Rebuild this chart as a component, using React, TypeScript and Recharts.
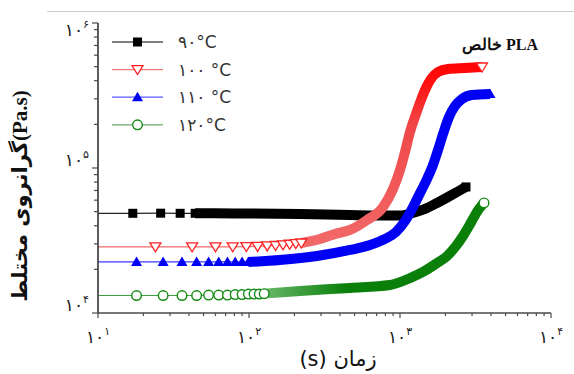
import React from 'react';
import { LineChart, Line, XAxis, YAxis, Legend } from 'recharts';

// ---- axes ----
const X_TICKS = [10, 20, 30, 40, 50, 60, 70, 80, 90, 100, 200, 300, 400, 500, 600, 700, 800, 900, 1000, 2000, 3000, 4000, 5000, 6000, 7000, 8000, 9000, 10000];
const Y_TICKS = [10000, 20000, 30000, 40000, 50000, 60000, 70000, 80000, 90000, 100000, 200000, 300000, 400000, 500000, 600000, 700000, 800000, 900000, 1000000];
const X_MAJOR = [10, 100, 1000, 10000];
const X_EXP = ['۱', '۲', '۳', '۴'];
const Y_MAJOR = [10000, 100000, 1000000];
const Y_EXP = ['۴', '۵', '۶'];

const X_TITLE = '(s) زمان';
const Y_TITLE_FA = 'گرانروی مختلط';
const Y_TITLE_UNIT = '(Pa.s)';
const PLOT_TITLE_FA = 'خالص';
const PLOT_TITLE_EN = 'PLA';

const LEGEND_LABELS = ['۹۰°C', '۱۰۰ °C', '۱۱۰ °C', '۱۲۰°C'];

// ---- complex viscosity vs. time: [time (s), eta* (Pa.s)] ----
// sparse early readings drawn as individual symbols
const black90Marks: [number, number][] = [
  [8, 48700], [17, 48700], [26, 48800], [35, 48700], [44, 48700],
];
// dense readings, merged into a continuous band of symbols
const black90Trace: [number, number][] = [
  [44, 48700], [80, 48600], [218, 48200], [467, 47400], [859, 47000], [1000, 47000], [1201, 48900], [1465, 52200],
  [1758, 57400], [2080, 63100], [2385, 68300], [2735, 74000],
];

const red100Marks: [number, number][] = [
  [6, 28600], [24, 28600], [42, 28600], [60, 28600], [78, 28600], [96, 28700], [114, 28800], [132, 29000],
  [150, 29200], [168, 29500], [186, 29800], [204, 30100], [222, 30400],
];
const red100Trace: [number, number][] = [
  [222, 30400], [295, 32400], [371, 35100], [467, 37400], [605, 43800], [772, 53800], [899, 71700],
  [1000, 96900], [1079, 128900], [1165, 177100], [1276, 235800], [1377, 294400], [1486, 356200],
  [1603, 411000], [1785, 459300], [2080, 481700], [2694, 489400], [3490, 497200],
];

const blue110Marks: [number, number][] = [
  [9, 22500], [18, 22500], [27, 22500], [36, 22500], [45, 22500], [54, 22500], [63, 22500], [72, 22500],
  [81, 22500], [90, 22500], [99, 22500],
];
const blue110Trace: [number, number][] = [
  [99, 22500], [160, 23200], [282, 24700], [467, 27200], [633, 29400], [796, 32400], [941, 36200],
  [1079, 43100], [1220, 53800], [1357, 67200], [1510, 84000], [1654, 104900], [1785, 133100],
  [1927, 171600], [2111, 224800], [2313, 267700], [2574, 299200], [2998, 318800], [3945, 323900],
];

const green120Marks: [number, number][] = [
  [9, 13200], [18, 13200], [27, 13200], [36, 13200], [45, 13200], [54, 13300], [63, 13300], [72, 13300],
  [81, 13400], [90, 13400], [99, 13500], [108, 13500], [117, 13500], [126, 13600],
];
const green120Trace: [number, number][] = [
  [126, 13600], [218, 14200], [467, 14900], [859, 15600], [1165, 17400], [1420, 19200], [1758, 22100],
  [2048, 24700], [2348, 29000], [2614, 34000], [2864, 39800], [3091, 45900], [3336, 52200], [3601, 57400],
];

const toRows = (pts: [number, number][]) => pts.map(([t, v]) => ({ t, v }));

// ---- styling ----
const AXIS = '#4a4a4a';
const FA_FONT = '"DejaVu Sans", sans-serif';
const SERIF = '"Liberation Serif", "DejaVu Serif", serif';

type SeriesStyle = { line: string; band: string; legendLine: string; kind: 'square' | 'down' | 'up' | 'circle'; color: string };
const STYLES: SeriesStyle[] = [
  { line: '#222222', band: '#000000', legendLine: '#555555', kind: 'square', color: '#000000' },
  { line: '#f06a6a', band: 'url(#redBand)', legendLine: '#f07a7a', kind: 'down', color: '#ff2020' },
  { line: '#3a3aff', band: '#0000f5', legendLine: '#5a5aff', kind: 'up', color: '#0000f5' },
  { line: '#3f9f3f', band: 'url(#greenBand)', legendLine: '#6aaa6a', kind: 'circle', color: '#128a12' },
];

function Marker({ kind, cx, cy, color }: { kind: SeriesStyle['kind']; cx: number; cy: number; color: string }) {
  if (kind === 'square') return <rect x={cx - 4.5} y={cy - 4.5} width={9} height={9} fill={color} />;
  if (kind === 'down')
    return (
      <polygon
        points={`${cx - 5.5},${cy - 4} ${cx + 5.5},${cy - 4} ${cx},${cy + 5}`}
        fill="#ffffff"
        stroke={color}
        strokeWidth={1.3}
      />
    );
  if (kind === 'up')
    return <polygon points={`${cx - 5.5},${cy + 4} ${cx + 5.5},${cy + 4} ${cx},${cy - 5.5}`} fill={color} />;
  return <circle cx={cx} cy={cy} r={4.8} fill="#ffffff" stroke={color} strokeWidth={1.4} />;
}

const markDot = (s: SeriesStyle) => (p: any) => (
  <g key={`m-${p.index}`}>
    <Marker kind={s.kind} cx={p.cx} cy={p.cy} color={s.color} />
  </g>
);
const endDot = (s: SeriesStyle, n: number) => (p: any) =>
  p.index === n - 1 ? (
    <g key={`e-${p.index}`}>
      <Marker kind={s.kind} cx={p.cx} cy={p.cy} color={s.color} />
    </g>
  ) : (
    <g key={`e-${p.index}`} />
  );

// ---- ticks ----
const BottomTick = (props: any) => {
  const { x, y, payload } = props;
  const i = X_MAJOR.indexOf(payload.value);
  const major = i >= 0;
  return (
    <g>
      <line x1={x} x2={x} y1={y} y2={y + (major ? 5 : 3)} stroke={AXIS} strokeWidth={1.2} />
      {major && (
        <text x={x} y={y + 30} textAnchor="middle" fontFamily={FA_FONT} fontSize={17} fill="#1a1a1a">
          <tspan>۱۰</tspan>
          <tspan dy={-8} fontSize={11}>{X_EXP[i]}</tspan>
        </text>
      )}
    </g>
  );
};

const LeftTick = (props: any) => {
  const { x, y, payload } = props;
  const i = Y_MAJOR.indexOf(payload.value);
  const major = i >= 0;
  return (
    <g>
      <line x1={x} x2={x - (major ? 6 : 4)} y1={y} y2={y} stroke={AXIS} strokeWidth={1.2} />
      {major && (
        <text x={x - 9} y={Math.max(y - 2, 36)} textAnchor="end" fontFamily={FA_FONT} fontSize={17} fill="#1a1a1a">
          <tspan>۱۰</tspan>
          <tspan dy={-8} fontSize={11}>{Y_EXP[i]}</tspan>
        </text>
      )}
    </g>
  );
};

const TopTick = (props: any) => {
  const { x, y, payload } = props;
  const major = X_MAJOR.includes(payload.value);
  return <line x1={x} x2={x} y1={y} y2={y + (major ? 5 : 3)} stroke={AXIS} strokeWidth={1.2} />;
};

const RightTick = (props: any) => {
  const { x, y, payload } = props;
  const major = Y_MAJOR.includes(payload.value);
  return <line x1={x} x2={x - (major ? 5 : 3)} y1={y} y2={y} stroke={AXIS} strokeWidth={1.2} />;
};

const LegendBox = () => (
  <svg width={170} height={112} style={{ display: 'block' }}>
    {LEGEND_LABELS.map((label, i) => {
      const s = STYLES[i];
      const cy = 14 + i * 27.6;
      return (
        <g key={label}>
          <line x1={12} x2={63} y1={cy} y2={cy} stroke={s.legendLine} strokeWidth={1.3} />
          <Marker kind={s.kind} cx={37.5} cy={cy} color={s.color} />
          <text x={78} y={cy + 6} fontFamily={FA_FONT} fontSize={17} fill="#333333">
            {label}
          </text>
        </g>
      );
    })}
  </svg>
);

const SERIES = [
  { name: 'black90', marks: black90Marks, trace: black90Trace },
  { name: 'red100', marks: red100Marks, trace: red100Trace },
  { name: 'blue110', marks: blue110Marks, trace: blue110Trace },
  { name: 'green120', marks: green120Marks, trace: green120Trace },
];

export default function App() {
  return (
    <div style={{ position: 'fixed', left: 0, top: 0, background: '#ffffff' }}>
      <LineChart width={574} height={374} margin={{ top: 23, right: 23, bottom: 0, left: 0 }}>
        <defs>
          <linearGradient id="redBand" gradientUnits="userSpaceOnUse" x1={0} y1={60} x2={0} y2={250}>
            <stop offset="0" stopColor="#ff0000" />
            <stop offset="0.12" stopColor="#ff1010" />
            <stop offset="0.35" stopColor="#f04848" />
            <stop offset="1" stopColor="#f26a6a" />
          </linearGradient>
          <linearGradient id="greenBand" gradientUnits="userSpaceOnUse" x1={262} y1={0} x2={345} y2={0}>
            <stop offset="0" stopColor="#6cb86c" />
            <stop offset="1" stopColor="#0a800a" />
          </linearGradient>
        </defs>
        <line x1={47} x2={574} y1={11.5} y2={11.5} stroke="#cccccc" strokeWidth={1} />
        <XAxis
          dataKey="t"
          type="number"
          scale="log"
          domain={[10, 10000]}
          allowDataOverflow
          ticks={X_TICKS}
          interval={0}
          tick={<BottomTick />}
          tickLine={false}
          tickSize={0}
          tickMargin={0}
          height={61}
          axisLine={{ stroke: AXIS, strokeWidth: 1.6 }}
        />
        <XAxis
          xAxisId="top"
          orientation="top"
          dataKey="t"
          type="number"
          scale="log"
          domain={[10, 10000]}
          allowDataOverflow
          ticks={X_TICKS}
          interval={0}
          tick={<TopTick />}
          tickLine={false}
          tickSize={0}
          tickMargin={0}
          height={0}
          axisLine={{ stroke: AXIS, strokeWidth: 1.6 }}
        />
        <YAxis
          type="number"
          scale="log"
          domain={[10000, 1000000]}
          allowDataOverflow
          ticks={Y_TICKS}
          interval={0}
          tick={<LeftTick />}
          tickLine={false}
          tickSize={0}
          tickMargin={0}
          width={98}
          axisLine={{ stroke: AXIS, strokeWidth: 1.8 }}
        />
        <YAxis
          yAxisId="right"
          orientation="right"
          type="number"
          scale="log"
          domain={[10000, 1000000]}
          allowDataOverflow
          ticks={Y_TICKS}
          interval={0}
          tick={<RightTick />}
          tickLine={false}
          tickSize={0}
          tickMargin={0}
          width={0}
          axisLine={{ stroke: AXIS, strokeWidth: 1.6 }}
        />
        {SERIES.flatMap((ser, i) => {
          const s = STYLES[i];
          return [
            <Line
              key={`${ser.name}-band`}
              data={toRows(ser.trace)}
              dataKey="v"
              type="monotone"
              stroke={s.band}
              strokeWidth={10}
              strokeLinecap="butt"
              strokeLinejoin="round"
              dot={endDot(s, ser.trace.length)}
              activeDot={false}
              legendType="none"
              isAnimationActive={false}
            />,
            <Line
              key={`${ser.name}-marks`}
              data={toRows(ser.marks)}
              dataKey="v"
              type="linear"
              stroke={s.line}
              strokeWidth={1.2}
              dot={markDot(s)}
              activeDot={false}
              legendType="none"
              isAnimationActive={false}
            />,
          ];
        })}
        <Legend
          content={<LegendBox />}
          layout="vertical"
          verticalAlign="middle"
          align="center"
          wrapperStyle={{ left: 100, top: 28, width: 170, height: 112 }}
        />
        <text x={538} y={50} textAnchor="end" fontFamily={SERIF} fontWeight="bold" fontSize={16} fill="#111111">
          {`${PLOT_TITLE_FA} ${PLOT_TITLE_EN}`}
        </text>
        <text x={338} y={366} textAnchor="middle" fontFamily={FA_FONT} fontSize={21} fill="#111111">
          {X_TITLE}
        </text>
        <text
          transform="translate(27,196) rotate(-90)"
          x={0}
          y={0}
          textAnchor="middle"
          fontFamily={FA_FONT}
          fontWeight="bold"
          fontSize={21}
          fill="#111111"
        >
          <tspan>{Y_TITLE_FA}</tspan>
          <tspan fontFamily={SERIF}>{Y_TITLE_UNIT}</tspan>
        </text>
      </LineChart>
    </div>
  );
}
